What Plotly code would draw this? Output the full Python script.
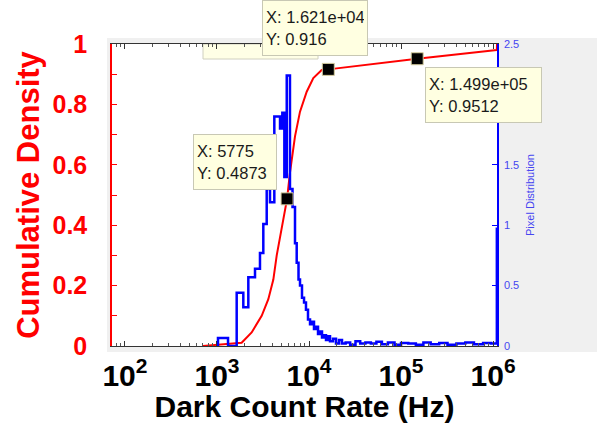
import plotly.graph_objects as go

# Cumulative density of the dark count rate (left axis)
cdf_rate = [705, 1853, 2381, 3060, 3613, 4096, 4458, 4843, 5262, 5775, 6210, 7043,
            7983, 9440, 11140, 13740, 16210, 149900, 1100000, 1104000]
cdf_value = [0, 0.011, 0.045, 0.10, 0.155, 0.22, 0.30, 0.364, 0.43, 0.4873, 0.574,
             0.694, 0.776, 0.842, 0.887, 0.914, 0.916, 0.9512, 0.98, 1.0]

# Pixel distribution histogram (right axis): bin left edges (Hz) and heights
hist_edge = [993, 1025, 1318, 1637, 1932, 2190, 2589, 2932, 3187, 3470, 3767, 4198,
             4842, 5130, 5395, 5728, 6210, 6620, 7043, 7350, 7690, 7983, 8390, 8830,
             9270, 9750, 10260, 10780, 11330, 11910, 12530, 13170, 13840, 14550, 15300,
             16090, 16910, 18230, 19650, 21180, 22830, 25000, 28000, 32000, 36000, 41000,
             47000, 54000, 62000, 72000, 85000, 100000, 120000, 145000, 175000, 210000,
             260000, 320000, 400000, 500000, 620000, 780000, 950000, 1100000, 1104000]
hist_count = [0, 0.066, 0, 0.44, 0.32, 0.57, 0.64, 0.77, 1.01, 1.30, 1.19, 1.90,
              1.80, 1.93, 1.40, 2.24, 1.30, 1.15, 0.85, 0.69, 0.55, 0.50, 0.40, 0.36,
              0.30, 0.22, 0.18, 0.20, 0.14, 0.16, 0.10, 0.12, 0.07, 0.09, 0.05,
              0.08, 0.04, 0.06, 0.02, 0.05, 0.02, 0.03, 0.01, 0.04, 0.02, 0.03,
              0.02, 0.035, 0.015, 0.03, 0.01, 0.025, 0.02, 0.01, 0.03, 0.015,
              0.025, 0.01, 0.02, 0.03, 0.015, 0.025, 0.02, 0.97, 0.97]

# Data tips on the cumulative curve
tip_x = [16210, 149900, 5775]
tip_y = [0.916, 0.9512, 0.4873]

x_tick_vals = [1e2, 1e3, 1e4, 1e5, 1e6]
x_tick_text = ["10<sup>2</sup>", "10<sup>3</sup>", "10<sup>4</sup>", "10<sup>5</sup>", "10<sup>6</sup>"]
y2_tick_vals = [0, 0.5, 1, 1.5, 2, 2.5]
y2_tick_text = ["0", "0.5", "1", "1.5", "2", "2.5"]

# minor log ticks: 2..9 within each decade shown
x_minor_vals = [m * 10 ** k for k in range(1, 7) for m in range(2, 10) if 72 < m * 10 ** k < 1.1e6]

W, H = 597, 423
L, R, T, B = 112, 497, 44, 346
FONT = "Liberation Sans, Arial, sans-serif"
RED = "#ff0000"
BLUE = "#0000ff"
LIGHTBLUE = "#4646f0"


def xp(px):
    return (px - L) / (R - L)


def yp(py):
    return (B - py) / (B - T)


fig = go.Figure()

fig.add_trace(go.Scatter(
    x=cdf_rate, y=cdf_value, mode="lines",
    line=dict(color=RED, width=2), yaxis="y", hoverinfo="skip"))

fig.add_trace(go.Scatter(
    x=hist_edge, y=hist_count, mode="lines", line_shape="hv",
    line=dict(color=BLUE, width=2.5), yaxis="y2", hoverinfo="skip"))

fig.add_trace(go.Scatter(
    x=tip_x, y=tip_y, mode="markers", yaxis="y3",
    marker=dict(symbol="square", size=12, color="black",
                line=dict(color="#d8cfa0", width=1)),
    hoverinfo="skip"))

# data tip boxes: (left px, top px, width px, index)
tip_boxes = [(262, 0, 106, 0), (425, 67, 117, 1), (193, 134, 84, 2)]
annotations = []
for left, top, bw, i in tip_boxes:
    annotations.append(dict(
        xref="paper", yref="paper", x=xp(left), y=yp(top),
        xanchor="left", yanchor="top", showarrow=False, align="left",
        text=f"X: {tip_x[i]:.4g}<br>Y: {tip_y[i]:.4g}",
        font=dict(family=FONT, size=16.5, color="#1a1a1a"),
        bgcolor="#ffffe1", bordercolor="#c8c8b4", borderwidth=1, borderpad=3,
        width=bw - 8, height=48))

shapes = [
    # figure background panel
    dict(type="rect", xref="paper", yref="paper", x0=xp(107), x1=xp(597),
         y0=yp(352), y1=yp(38), fillcolor="#f0f0f0", line=dict(width=0), layer="below"),
    # axes background
    dict(type="rect", xref="paper", yref="paper", x0=0, x1=1, y0=0, y1=1,
         fillcolor="white", line=dict(width=0), layer="below"),
    # older data tip tucked under the top edge
    dict(type="rect", xref="paper", yref="paper", x0=xp(203), x1=xp(318),
         y0=yp(59), y1=yp(44), fillcolor="#ffffe6", line=dict(color="#d0d0c0", width=1),
         layer="below"),
]

fig.update_layout(
    width=W, height=H,
    margin=dict(l=L, r=W - R, t=T, b=H - B, pad=0, autoexpand=False),
    paper_bgcolor="white", plot_bgcolor="white",
    showlegend=False,
    font=dict(family=FONT),
    xaxis=dict(
        type="log", range=[1.859, 6.043], automargin=False,
        tickvals=x_tick_vals, ticktext=x_tick_text,
        ticks="inside", ticklen=5, tickcolor="#333", tickwidth=1,
        showline=True, linecolor="#333", linewidth=1, mirror="ticks",
        showgrid=False, zeroline=False,
        minor=dict(tickmode="array", tickvals=x_minor_vals, ticks="inside",
                   ticklen=3, tickcolor="#555", tickwidth=1, showgrid=False),
        tickfont=dict(family=FONT, size=30, color="black", weight="bold"),
        ticklabelstandoff=3,
        title=dict(text="Dark Count Rate (Hz)", standoff=8,
                   font=dict(family=FONT, size=30, color="black", weight="bold")),
    ),
    yaxis=dict(
        range=[0, 1], tick0=0, dtick=0.2, automargin=False,
        ticks="inside", ticklen=5, tickcolor=RED,
        showline=True, linecolor=RED, linewidth=1.5,
        showgrid=False, zeroline=False,
        minor=dict(ticks="inside", ticklen=5, tickcolor=RED, dtick=0.1, showgrid=False),
        tickfont=dict(family=FONT, size=25, color=RED, weight="bold"),
        ticklabelstandoff=18,
        title=dict(text="Cumulative Density", standoff=4,
                   font=dict(family=FONT, size=31, color=RED, weight="bold")),
    ),
    yaxis2=dict(
        overlaying="y", side="right", range=[0, 2.5], automargin=False,
        tickvals=y2_tick_vals, ticktext=y2_tick_text,
        ticks="inside", ticklen=5, tickcolor=BLUE,
        showline=True, linecolor=BLUE, linewidth=1.5,
        showgrid=False, zeroline=False,
        tickfont=dict(family=FONT, size=11, color=LIGHTBLUE),
        ticklabelstandoff=3,
        title=dict(text="Pixel Distribution", standoff=8,
                   font=dict(family=FONT, size=11, color=LIGHTBLUE)),
    ),
    yaxis3=dict(overlaying="y", range=[0, 1], visible=False, automargin=False),
    shapes=shapes,
    annotations=annotations,
)

fig.write_html("out.html")
